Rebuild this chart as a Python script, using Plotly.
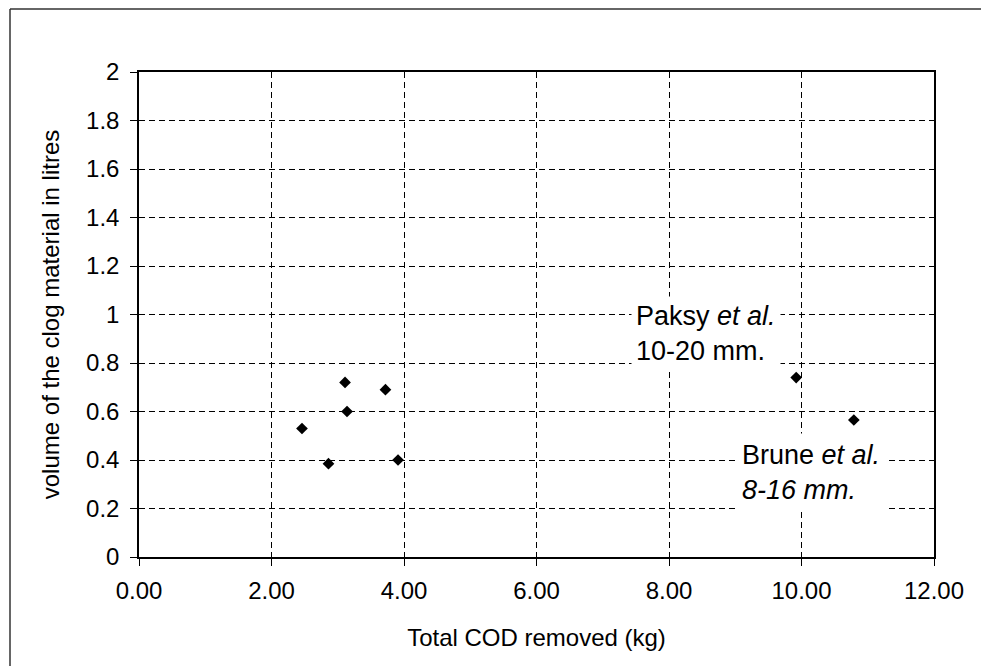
import plotly.graph_objects as go

# Data
cod_removed = [2.46, 3.11, 3.72, 3.14, 2.86, 3.91, 9.92, 10.79]
clog_volume = [0.53, 0.72, 0.69, 0.60, 0.385, 0.40, 0.74, 0.565]

x_ticks = [0, 2, 4, 6, 8, 10, 12]
x_tick_text = ["0.00", "2.00", "4.00", "6.00", "8.00", "10.00", "12.00"]
y_ticks = [0, 0.2, 0.4, 0.6, 0.8, 1.0, 1.2, 1.4, 1.6, 1.8, 2.0]
y_tick_text = ["0", "0.2", "0.4", "0.6", "0.8", "1", "1.2", "1.4", "1.6", "1.8", "2"]

x_title = "Total COD removed (kg)"
y_title = "volume of the clog material in litres"
label_paksy = "Paksy <i>et al.</i><br>10-20 mm."
label_brune = "Brune <i>et al.</i><br><i>8-16 mm.</i>"

FONT = "Liberation Sans, Arial, sans-serif"

fig = go.Figure()
fig.add_trace(go.Scatter(
    x=cod_removed, y=clog_volume, mode="markers",
    marker=dict(symbol="diamond", size=9, color="black"),
    showlegend=False,
))

axis_common = dict(
    showline=True, linecolor="black", linewidth=1.5, mirror=True,
    ticks="outside", ticklen=7, tickcolor="black", tickwidth=1,
    showgrid=True, gridcolor="black", gridwidth=1, griddash="6px,4px",
    zeroline=False,
    tickfont=dict(family=FONT, size=24, color="black"),
)

fig.update_xaxes(
    range=[0, 12], tickvals=x_ticks, ticktext=x_tick_text,
    title=dict(text=x_title, font=dict(family=FONT, size=24, color="black"), standoff=27),
    ticklabelstandoff=4,
    **axis_common,
)
fig.update_yaxes(
    range=[0, 2], tickvals=y_ticks, ticktext=y_tick_text,
    title=dict(text=y_title, font=dict(family=FONT, size=24, color="black"), standoff=20),
    ticklabelstandoff=6,
    **axis_common,
)

fig.add_annotation(
    x=7.43, y=0.92, xref="x", yref="y", text=label_paksy, showarrow=False,
    xanchor="left", yanchor="middle", align="left", bgcolor="white",
    borderpad=4, font=dict(family=FONT, size=27, color="black"),
)
fig.add_annotation(
    x=9.0, y=0.35, xref="x", yref="y", text=label_brune, showarrow=False,
    xanchor="left", yanchor="middle", align="left", bgcolor="white",
    borderpad=6, font=dict(family=FONT, size=27, color="black"),
)

# scanned page frame (left and top edges)
fig.add_shape(type="line", xref="paper", yref="paper",
              x0=(10 - 139) / 795, x1=(10 - 139) / 795,
              y0=(557 - 9) / 485, y1=(557 - 666) / 485,
              line=dict(color="#333333", width=1.5))
fig.add_shape(type="line", xref="paper", yref="paper",
              x0=(10 - 139) / 795, x1=(981 - 139) / 795,
              y0=(557 - 9) / 485, y1=(557 - 9) / 485,
              line=dict(color="#333333", width=1.5))

fig.update_layout(
    width=981, height=666,
    margin=dict(l=139, r=47, t=72, b=109, autoexpand=False),
    plot_bgcolor="white", paper_bgcolor="white",
    font=dict(family=FONT, color="black"),
)

fig.write_html("out.html", config={"displayModeBar": False})
